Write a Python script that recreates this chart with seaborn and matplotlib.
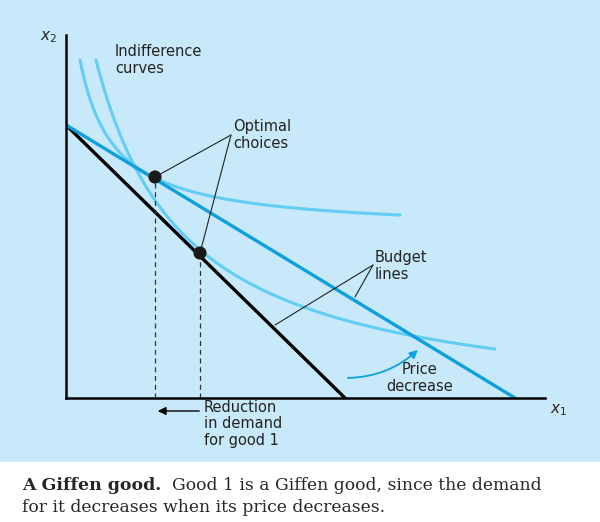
import numpy as np
import matplotlib
matplotlib.use("Agg")
import matplotlib.pyplot as plt
import seaborn as sns
from matplotlib.patches import Rectangle

# data (in plot units, origin at axes corner)
budget_old = [(0, 273), (279, 0)]      # black line (before price decrease)
budget_new = [(0, 273), (449, 0)]      # blue line (after price decrease)
optima_x = [89, 134]
optima_y = [221, 145]
ic1 = dict(a=166.5, b=5830, c=-20, x0=14, x1=334)
ic2 = dict(a=-16.2, b=31880, c=-60, x0=30, x1=429)

BG = "#c8e9f9"
LIGHT = "#62cdf5"
BLUE = "#0ea0dc"
sns.set_theme(style="white")
fig = plt.figure(figsize=(6, 5.22), dpi=100, facecolor=BG)
fig.patches.append(Rectangle((0, 0), 1, 60/522, transform=fig.transFigure, color="white", zorder=0))
ax = fig.add_axes([66/600, (522-398)/522, (545-66)/600, (398-35)/522])
ax.set_facecolor(BG)
ax.set_xlim(0, 479); ax.set_ylim(0, 363)
for s in ["top", "right"]:
    ax.spines[s].set_visible(False)
for s in ["left", "bottom"]:
    ax.spines[s].set_color("black"); ax.spines[s].set_linewidth(1.8)
ax.set_xticks([]); ax.set_yticks([])

for ic in (ic1, ic2):
    x = np.linspace(ic["x0"], ic["x1"], 300)
    sns.lineplot(x=x, y=ic["a"] + ic["b"]/(x - ic["c"]), ax=ax, color=LIGHT, lw=2.2, sort=False)
sns.lineplot(x=[p[0] for p in budget_old], y=[p[1] for p in budget_old], ax=ax, color="black", lw=2.4)
sns.lineplot(x=[p[0] for p in budget_new], y=[p[1] for p in budget_new], ax=ax, color=BLUE, lw=2.4)
for xo, yo in zip(optima_x, optima_y):
    ax.plot([xo, xo], [0, yo], ls=(0, (4, 3)), color="#333333", lw=0.9)
sns.scatterplot(x=optima_x, y=optima_y, ax=ax, color="#1a1a1a", s=90, zorder=5, edgecolor="none")

font = dict(family="DejaVu Sans", fontsize=10.5, color="#222222")
ax.text(49, 338, "Indifference\ncurves", va="center", ha="left", linespacing=1.1, **font)
ax.text(167, 263, "Optimal\nchoices", va="center", ha="left", linespacing=1.1, **font)
for xo, yo in zip(optima_x, optima_y):
    ax.plot([165, xo], [263, yo], color="#222222", lw=0.8)
ax.text(309, 132, "Budget\nlines", va="center", ha="left", linespacing=1.1, **font)
ax.plot([307, 289], [133, 101], color="#222222", lw=0.8)
ax.plot([307, 209], [133, 73], color="#222222", lw=0.8)
ax.text(354, 20, "Price\ndecrease", va="center", ha="center", linespacing=1.1, **font)
ax.annotate("", xy=(354, 50), xytext=(279, 20),
            arrowprops=dict(arrowstyle="-|>", color=BLUE, lw=1.3, connectionstyle="arc3,rad=0.2"))
ax.text(138, -26, "Reduction\nin demand\nfor good 1", va="center", ha="left", linespacing=1.1, clip_on=False, **font)
ax.annotate("", xy=(89, -13), xytext=(136, -13), annotation_clip=False,
            arrowprops=dict(arrowstyle="-|>", color="black", lw=1.0))
ax.text(484, -12, "$x_1$", ha="left", va="center", fontsize=11, clip_on=False)
ax.text(-26, 361, "$x_2$", ha="left", va="center", fontsize=11, clip_on=False)

fig.text(22/600, 1-485/522, "A Giffen good.", fontsize=12.5, fontweight="bold", family="DejaVu Serif", va="center")
fig.text(172/600, 1-485/522, "Good 1 is a Giffen good, since the demand", fontsize=12.3, family="DejaVu Serif", va="center")
fig.text(22/600, 1-507/522, "for it decreases when its price decreases.", fontsize=12.3, family="DejaVu Serif", va="center")
fig.savefig("out.png", dpi=100, facecolor=BG)
